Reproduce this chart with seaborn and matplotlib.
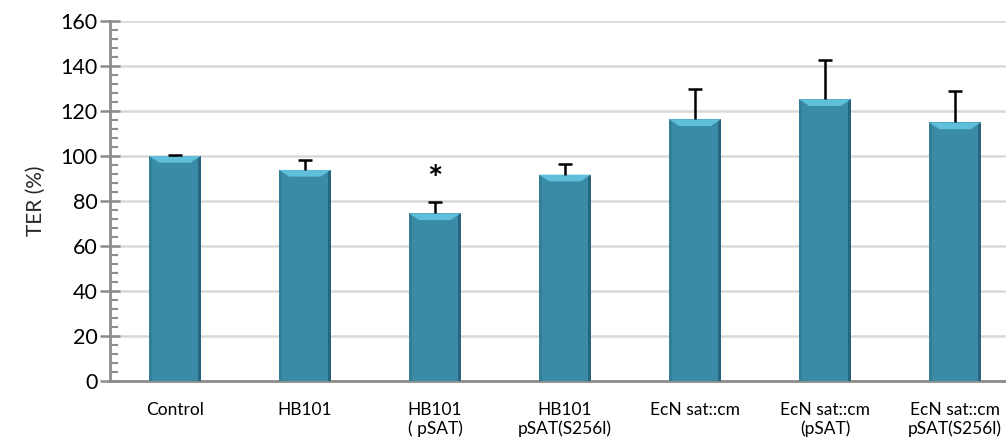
import numpy as np
import pandas as pd
import matplotlib
matplotlib.use("Agg")
import matplotlib.pyplot as plt
from matplotlib.patches import Polygon, Rectangle
from matplotlib.ticker import MultipleLocator
import seaborn as sns

# Transepithelial resistance relative to control
categories = ["Control", "HB101", "HB101\n( pSAT)", "HB101\npSAT(S256l)",
              "EcN sat::cm", "EcN sat::cm\n(pSAT)", "EcN sat::cm\npSAT(S256l)"]
ter_mean = [100.0, 93.8, 74.5, 91.7, 116.3, 125.2, 114.9]
ter_err = [0.3, 4.2, 4.9, 4.7, 13.6, 17.5, 14.1]
significant = [False, False, True, False, False, False, False]

sns.set_theme(style="white")
plt.rcParams["font.family"] = ["Lato", "DejaVu Sans"]

df = pd.DataFrame({"group": categories, "ter": ter_mean})

fig = plt.figure(figsize=(10.06, 4.47), dpi=100)
ax = fig.add_axes([0.1093, 0.1477, 0.9046, 0.8054])

bar_color = "#3a8ca6"
sns.barplot(data=df, x="group", y="ter", color=bar_color, width=0.40,
            saturation=1, ax=ax, zorder=3, edgecolor="none")

# bevelled look on each bar: darker sides and a light top facet
for p in list(ax.patches):
    x0, y0 = p.get_x(), p.get_y()
    w, h = p.get_width(), p.get_height()
    side = w * 0.05
    ax.add_patch(Rectangle((x0, y0), side, h, color="#347f98", zorder=3.1, lw=0))
    ax.add_patch(Rectangle((x0 + w - side, y0), side, h, color="#27667e", zorder=3.1, lw=0))
    bev = 3.0
    ax.add_patch(Polygon([(x0, h), (x0 + w, h), (x0 + w - 0.2 * w, h - bev),
                          (x0 + 0.2 * w, h - bev)], closed=True,
                         color="#5fbfda", zorder=3.2, lw=0))

# upper error bars only: stem and cap
xs = np.arange(len(categories))
tops = [m + e for m, e in zip(ter_mean, ter_err)]
ax.vlines(xs, ter_mean, tops, colors="black", linewidth=1.8, zorder=4)
ax.hlines(tops, xs - 0.055, xs + 0.055, colors="black", linewidth=1.8, zorder=4)

for x, t, s in zip(xs, tops, significant):
    if s:
        ax.text(x, t + 2.5, "*", ha="center", va="bottom", fontsize=26,
                fontweight="bold", color="black", zorder=5)

ax.set_ylim(0, 160)
ax.set_xlim(-0.5, len(categories) - 0.5)
ax.yaxis.set_major_locator(MultipleLocator(20))
ax.yaxis.set_minor_locator(MultipleLocator(4))
ax.grid(axis="y", which="major", color="#d9d9d9", linewidth=1.8, zorder=0)
ax.set_axisbelow(True)

for side in ["top", "right"]:
    ax.spines[side].set_visible(False)
ax.spines["left"].set_color("#8c8c8c")
ax.spines["left"].set_linewidth(2)
ax.spines["bottom"].set_color("#8c8c8c")
ax.spines["bottom"].set_linewidth(2)

ax.tick_params(axis="y", which="major", direction="inout", length=14, width=1.8,
               color="#8c8c8c", labelsize=15.5, labelcolor="black", left=True, pad=2)
ax.tick_params(axis="y", which="minor", direction="in", length=6, width=1.5,
               color="#8c8c8c", left=True)
ax.tick_params(axis="x", which="both", length=0, labelsize=12.5, pad=15,
               labelcolor="black")

ax.set_xlabel("")
ax.set_ylabel("TER (%)", fontsize=15, labelpad=10)

fig.savefig("out.png", dpi=100)
